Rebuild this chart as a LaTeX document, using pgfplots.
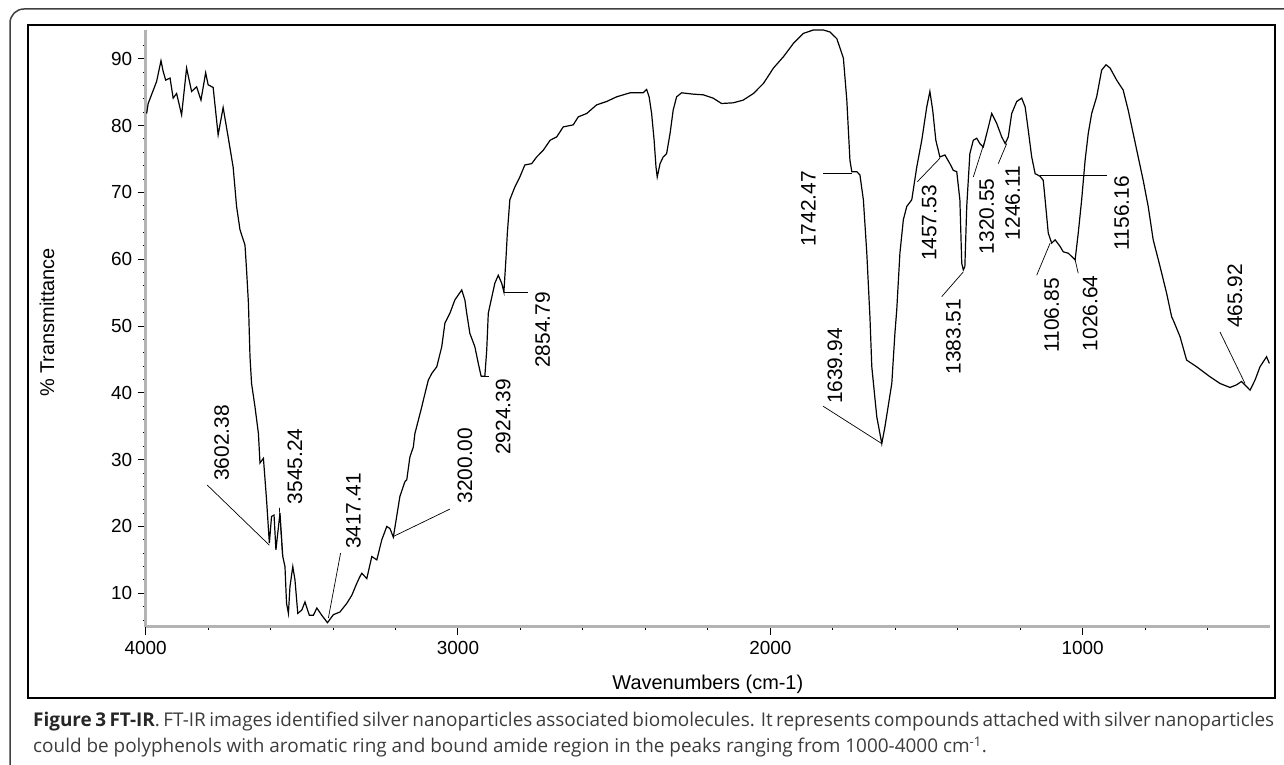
\documentclass[border=0pt]{standalone}
\usepackage{fontspec}
\setmainfont{Liberation Sans}
\newfontfamily\capfont{Open Sans}
\usepackage{pgfplots}
\pgfplotsset{compat=1.18}

\definecolor{axgray}{RGB}{180,180,180}
\definecolor{captext}{RGB}{60,60,60}

\newcommand{\pk}{\fontsize{21}{21}\selectfont}

\begin{document}
\begin{tikzpicture}
\useasboundingbox (0bp,0bp) rectangle (1284bp,765bp);
\begin{scope}
  \clip (0bp,0bp) rectangle (1284bp,765bp);
  \draw[line width=1.5bp, black!75, rounded corners=14bp] (10bp,-40bp) rectangle (1330bp,756bp);
\end{scope}
\draw[line width=1.3bp] (28bp,67bp) rectangle (1275bp,740bp);

\begin{axis}[
    at={(145.7bp,138.3bp)}, anchor=south west,
    scale only axis,
    width=1124.3bp, height=596.7bp,
    x dir=reverse,
    xmin=400, xmax=4000,
    ymin=5, ymax=94.3,
    axis x line=bottom, axis y line=left,
    axis line style={draw=axgray, line width=3bp, -},
    xtick={1000,2000,3000,4000},
    minor xtick={600,800,...,3800},
    ytick={10,20,...,90},
    minor ytick={6,8,...,92},
    tick align=outside,
    major tick length=8bp,
    minor tick length=3bp,
    tick style={black, line width=1bp},
    ticklabel style={font=\fontsize{19}{19}\selectfont},
    /pgf/number format/assume math mode=true,
    /pgf/number format/set thousands separator={},
    xticklabel style={yshift=-3bp},
    yticklabel style={xshift=-2bp},
    xlabel={Wavenumbers (cm-1)},
    ylabel={\% Transmittance},
    label style={font=\fontsize{20}{20}\selectfont},
    xlabel style={at={(axis description cs:0.5,0)}, anchor=center, yshift=-58bp},
    ylabel style={at={(axis description cs:-0.0878,0.51)}, anchor=center},
    clip=false,
]
\addplot[black, line width=1.2bp] coordinates {
(3997,81.8) (3992,83.3) (3965,86.6) (3951,89.7) (3944,88.1) (3936,86.8)
(3922,87.1) (3912,84.1) (3901,84.8) (3885,81.6) (3869,88.6) (3853,85.1)
(3837,85.8) (3823,83.8) (3808,87.9) (3800,86.1) (3784,85.7) (3768,78.6)
(3752,82.7) (3736,78.3) (3720,73.8) (3709,67.9) (3698,64.4) (3682,62.1)
(3677,58.4) (3671,53.4) (3666,45.4) (3661,41.4) (3650,37.9) (3639,33.9)
(3634,29.5) (3623,30.2) (3613,24.0) (3604,17.5) (3597,21.5) (3589,21.7)
(3583,16.5) (3570,22.0) (3561,15.5) (3554,14.0) (3549,8.5) (3543,7.0)
(3538,11.0) (3529,14.0) (3522,12.0) (3513,7.0) (3500,7.5) (3490,8.7)
(3476,6.7) (3463,6.7) (3452,7.8) (3436,6.7) (3418,5.6) (3399,6.8)
(3378,7.2) (3356,8.5) (3340,9.7) (3324,11.5) (3314,12.5) (3308,13.0)
(3292,12.2) (3276,15.5) (3260,15.0) (3244,18.0) (3228,20.0) (3218,19.7)
(3207,18.4) (3186,24.5) (3170,26.7) (3164,27.0) (3154,30.4) (3143,31.9)
(3138,33.9) (3116,37.9) (3111,38.9) (3095,41.9) (3084,42.9) (3068,43.9)
(3052,46.9) (3042,50.4) (3026,51.9) (3010,53.9) (2988,55.4) (2978,53.9)
(2972,51.9) (2962,48.9) (2946,46.9) (2935,44.4) (2926,42.5) (2914,42.5)
(2908,46.4) (2903,51.9) (2898,53.0) (2882,56.4) (2871,57.6) (2860,56.4)
(2853,55.1) (2846,60.4) (2842,63.9) (2834,68.9) (2818,70.8) (2802,72.3)
(2786,74.1) (2764,74.3) (2748,75.3) (2727,76.3) (2705,77.8) (2684,78.3)
(2663,79.8) (2631,80.1) (2615,81.3) (2588,81.8) (2556,83.1) (2524,83.6)
(2492,84.3) (2449,84.9) (2407,84.9) (2396,85.4) (2388,84.3) (2380,81.8)
(2372,77.8) (2366,73.8) (2362,72.3) (2353,74.3) (2343,75.3) (2332,75.8)
(2321,78.8) (2311,82.3) (2300,84.3) (2284,84.9) (2247,84.7) (2215,84.6)
(2183,84.1) (2156,83.3) (2119,83.4) (2087,83.8) (2054,84.8) (2022,86.3)
(1990,88.6) (1958,90.3) (1926,92.3) (1894,93.8) (1862,94.3) (1830,94.3)
(1809,94.0) (1787,93.0) (1766,90.1) (1755,83.8) (1745,74.8) (1739,73.1)
(1723,73.1) (1713,72.6) (1702,68.9) (1691,60.9) (1681,51.4) (1675,43.9)
(1659,36.4) (1643,32.4) (1633,34.9) (1611,41.4) (1601,48.9) (1595,52.5)
(1585,60.9) (1574,65.9) (1563,67.9) (1547,68.9) (1531,73.8) (1515,77.8)
(1499,82.8) (1489,85.1) (1480,82.3) (1470,77.8) (1457,75.3) (1441,75.6)
(1425,74.3) (1414,73.3) (1403,73.1) (1393,68.9) (1387,59.4) (1382,58.4)
(1377,58.9) (1371,67.9) (1361,75.8) (1350,77.8) (1339,78.1) (1329,77.3)
(1318,76.8) (1307,78.8) (1291,81.8) (1275,80.3) (1259,78.3) (1248,77.3)
(1238,78.3) (1227,81.8) (1211,83.6) (1195,84.1) (1184,82.8) (1174,79.3)
(1163,75.3) (1152,72.8) (1136,72.4) (1126,71.8) (1120,68.9) (1110,63.9)
(1099,62.4) (1088,62.9) (1072,61.9) (1062,61.1) (1046,60.9) (1035,60.4)
(1024,59.9) (1014,63.9) (1003,68.9) (992,74.8) (982,78.8) (971,81.8)
(955,84.3) (939,88.3) (925,89.1) (912,88.6) (891,86.8) (870,85.3)
(854,82.3) (838,78.8) (822,75.3) (806,71.8) (790,67.9) (774,62.9)
(752,58.9) (731,54.9) (715,51.4) (710,50.9) (688,48.4) (667,44.9)
(635,43.9) (592,42.4) (560,41.4) (528,40.8) (507,41.2) (491,41.7)
(464,40.4) (448,41.9) (432,43.9) (411,45.4) (402,44.4)
};

% peak leaders
\draw[line width=0.7bp] (axis cs:3803,26.2) -- (axis cs:3604,17.2);
\draw[line width=0.7bp] (axis cs:3572,22.8) -- (axis cs:3562,15.6);
\draw[line width=0.7bp] (axis cs:3376,16.0) -- (axis cs:3415,6.3);
\draw[line width=0.7bp] (axis cs:3026,22.6) -- (axis cs:3207,18.5);
\draw[line width=0.7bp] (axis cs:2926,42.5) -- (axis cs:2900,42.5);
\draw[line width=0.7bp] (axis cs:2853,55.1) -- (axis cs:2777,55.1);
\draw[line width=0.7bp] (axis cs:1831,72.85) -- (axis cs:1739,72.85);
\draw[line width=0.7bp] (axis cs:1831,38.0) -- (axis cs:1643,32.4);
\draw[line width=0.7bp] (axis cs:1529,71.6) -- (axis cs:1457,75.1);
\draw[line width=0.7bp] (axis cs:1451,54.4) -- (axis cs:1382,58.1);
\draw[line width=0.7bp] (axis cs:1350,72.3) -- (axis cs:1316,77.3);
\draw[line width=0.7bp] (axis cs:1270,74.3) -- (axis cs:1243,77.3);
\draw[line width=0.7bp] (axis cs:1147,57.6) -- (axis cs:1104,62.4);
\draw[line width=0.7bp] (axis cs:1014,57.9) -- (axis cs:1024,59.9);
\draw[line width=0.7bp] (axis cs:1136,72.6) -- (axis cs:923,72.6);
\draw[line width=0.7bp] (axis cs:560,49.1) -- (axis cs:480,41.4);

% peak labels
\node[rotate=90, font=\pk] at (axis cs:3757,32.5) {3602.38};
\node[rotate=90, font=\pk] at (axis cs:3522,29.0) {3545.24};
\node[rotate=90, font=\pk] at (axis cs:3335,22.3) {3417.41};
\node[rotate=90, font=\pk] at (axis cs:2978,29.1) {3200.00};
\node[rotate=90, font=\pk] at (axis cs:2855,36.4) {2924.39};
\node[rotate=90, font=\pk] at (axis cs:2729,49.4) {2854.79};
\node[rotate=90, font=\pk] at (axis cs:1878,67.5) {1742.47};
\node[rotate=90, font=\pk] at (axis cs:1793,44.0) {1639.94};
\node[rotate=90, font=\pk] at (axis cs:1491,65.4) {1457.53};
\node[rotate=90, font=\pk] at (axis cs:1414,48.4) {1383.51};
\node[rotate=90, font=\pk] at (axis cs:1307,66.4) {1320.55};
\node[rotate=90, font=\pk] at (axis cs:1224,68.4) {1246.11};
\node[rotate=90, font=\pk] at (axis cs:1099,51.6) {1106.85};
\node[rotate=90, font=\pk] at (axis cs:976,51.9) {1026.64};
\node[rotate=90, font=\pk] at (axis cs:875,66.9) {1156.16};
\node[rotate=90, font=\pk] at (axis cs:512,54.5) {465.92};
\end{axis}

\node[anchor=north west, inner sep=0pt, text width=1241bp, align=justify,
      font=\capfont\fontsize{19}{26}\selectfont, text=captext]
  at (33bp,53bp)
  {{\bfseries\color{black!85}Figure 3 FT-IR}. FT-IR images identified silver nanoparticles associated biomolecules. It represents compounds attached with silver nanoparticles\linebreak could be polyphenols with aromatic ring and bound amide region in the peaks ranging from 1000-4000 cm\textsuperscript{-1}.};
\end{tikzpicture}
\end{document}
